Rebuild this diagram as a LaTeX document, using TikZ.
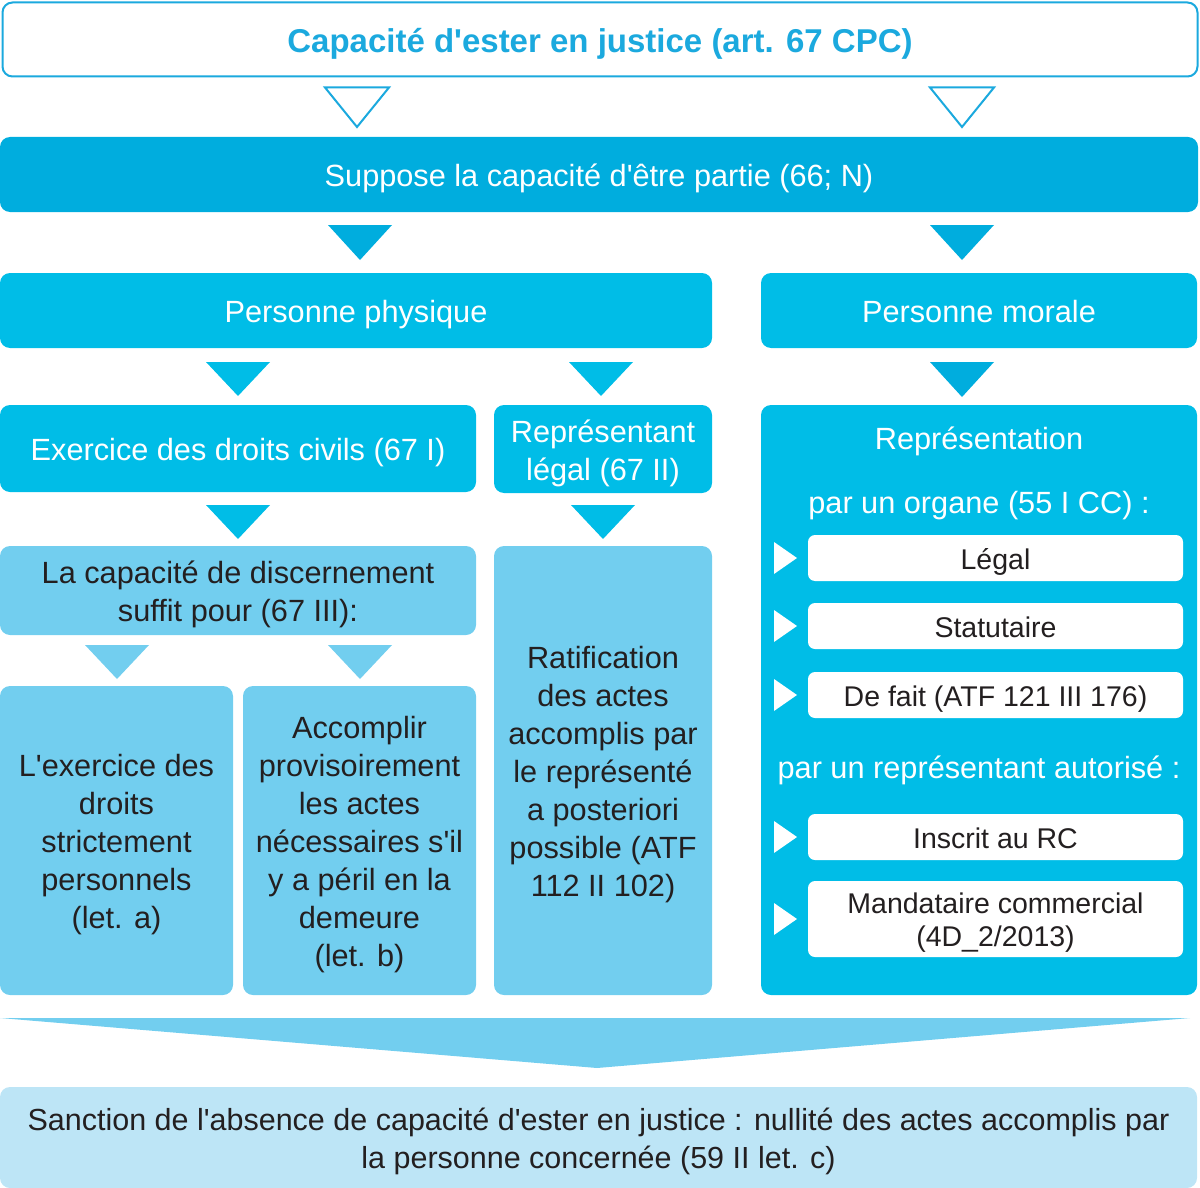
\documentclass[tikz,border=0pt]{standalone}
\usepackage{fontspec}
\setmainfont{Liberation Sans}
\usetikzlibrary{calc}
\definecolor{titleblue}{HTML}{1BA9DE}
\definecolor{darkb}{HTML}{00ADDE}
\definecolor{midb}{HTML}{00BDE7}
\definecolor{lightb}{HTML}{72CEEF}
\definecolor{paleb}{HTML}{BDE5F6}
\definecolor{txt}{HTML}{231F20}
\newcommand\q{\textquotesingle}
\newcommand\topstrut{\rule{0pt}{1em}}
\newcommand\botstrut{\rule[-0.2em]{0pt}{0.2em}}
\tikzset{
  box/.style={rounded corners=10pt, inner sep=0pt, outer sep=0pt, align=center,
    font=\fontsize{30.7}{38}\selectfont,
    execute at begin node=\topstrut, execute at end node=\botstrut},
  darkbox/.style={box, fill=darkb, text=white},
  midbox/.style={box, fill=midb, text=white},
  lightbox/.style={box, fill=lightb, text=txt},
  whitebox/.style={box, rounded corners=7pt, fill=white, text=txt, minimum width=375pt,
    font=\fontsize{28.5}{33}\selectfont},
  lbl/.style={inner sep=0pt, text=white, font=\fontsize{30.7}{38}\selectfont,
    execute at begin node=\topstrut, execute at end node=\botstrut},
}
\newcommand\tri[6]{\path let \p1=(#1.south), \p2=(#2.north) in
  [#6] (#3pt-32pt,\y1-#4pt) -- (#3pt+32pt,\y1-#4pt) -- (#3pt,\y2+#5pt) -- cycle;}
\newcommand\sidetri[1]{\fill[white] ([xshift=-34pt,yshift=16pt]#1.west) -- ([xshift=-11pt]#1.west) -- ([xshift=-34pt,yshift=-16pt]#1.west) -- cycle;}
\begin{document}
\begin{tikzpicture}[x=1pt,y=-1pt]
\useasboundingbox (0,0) rectangle (1200,1188);
% top
\node[box, draw=titleblue, line width=2pt, fill=white, text=titleblue,
  minimum width=1195pt, minimum height=74pt, font=\fontsize{33}{40}\selectfont\bfseries]
  (title) at (600,39.5) {Capacité d\q{}ester en justice (art. 67 CPC)};
\node[darkbox, minimum width=1198pt, minimum height=75pt] (sup) at (599,174.5)
  {Suppose la capacité d\q{}être partie (66; N)};
\node[midbox, minimum width=712pt, minimum height=75pt] (phys) at (356,310.5) {Personne physique};
\node[midbox, minimum width=436pt, minimum height=75pt] (mor) at (979,310.5) {Personne morale};
\node[midbox, minimum width=476pt, minimum height=87pt] (exer) at (238,448.5)
  {Exercice des droits civils (67 I)};
\node[midbox, minimum width=218pt, minimum height=88pt] (repl) at (603,449)
  {\topstrut Représentant\\légal (67 II)};
\node[midbox, minimum width=436pt, minimum height=590pt] (repr) at (979,700) {};
\node[lightbox, minimum width=476pt, minimum height=89pt] (cap) at (238,590.5)
  {\topstrut La capacité de discernement\\suffit pour (67 III):};
\node[lightbox, minimum width=218pt, minimum height=449pt] (rat) at (603,770.5)
  {\topstrut Ratification\\des actes\\accomplis par\\le représenté\\a posteriori\\possible (ATF\\112 II 102)};
\node[lightbox, minimum width=233pt, minimum height=309pt] (exa) at (116.5,840.5)
  {\topstrut L\q{}exercice des\\droits\\strictement\\personnels\\(let. a)};
\node[lightbox, minimum width=233pt, minimum height=309pt] (exb) at (359.5,840.5)
  {\topstrut Accomplir\\provisoirement\\les actes\\nécessaires s\q{}il\\y a péril en la\\demeure\\(let. b)};
% inside representation
\node[lbl] (rtitle) at (979,437) {Représentation};
\node[lbl] (rorg) at (979,501) {par un organe (55 I CC) :};
\node[lbl] (raut) at (979,766) {par un représentant autorisé :};
\node[whitebox, minimum height=46pt] (leg) at (995.5,558) {Légal};
\node[whitebox, minimum height=46pt] (stat) at (995.5,626) {Statutaire};
\node[whitebox, minimum height=46pt] (fait) at (995.5,695) {De fait (ATF 121 III 176)};
\node[whitebox, minimum height=46pt] (insc) at (995.5,837) {Inscrit au RC};
\node[whitebox, minimum height=76pt] (mand) at (995.5,919) {\topstrut Mandataire commercial\\(4D\_2/2013)};
\foreach \n in {leg,stat,fait,insc,mand} {\sidetri{\n}}
% bottom
\node[box, fill=paleb, text=txt, minimum width=1197pt, minimum height=101pt,
  font=\fontsize{30.5}{38}\selectfont] (sanc) at (598.5,1137.5)
  {\topstrut Sanction de l\q{}absence de capacité d\q{}ester en justice : nullité des actes accomplis par\\la personne concernée (59 II let. c)};
% connectors (triangles)
\tri{title}{sup}{357}{11}{10}{draw=titleblue, line width=2pt, fill=white, line join=miter}
\tri{title}{sup}{962}{11}{10}{draw=titleblue, line width=2pt, fill=white, line join=miter}
\tri{sup}{phys}{360}{13}{13}{fill=darkb}
\tri{sup}{mor}{962}{13}{13}{fill=darkb}
\tri{phys}{exer}{238}{14}{9}{fill=midb}
\tri{phys}{repl}{601}{14}{9}{fill=midb}
\tri{mor}{repr}{962}{14}{8}{fill=darkb}
\tri{exer}{cap}{238}{13}{7}{fill=midb}
\tri{repl}{rat}{603}{12}{7}{fill=midb}
\tri{cap}{exa}{117}{10}{7}{fill=lightb}
\tri{cap}{exb}{360}{10}{7}{fill=lightb}
\path let \p1=(exa.south), \p2=(sanc.north) in
  [fill=lightb] (0pt,\y1-23pt) -- (1190pt,\y1-23pt) -- (597pt,\y2+19pt) -- cycle;
\end{tikzpicture}
\end{document}
